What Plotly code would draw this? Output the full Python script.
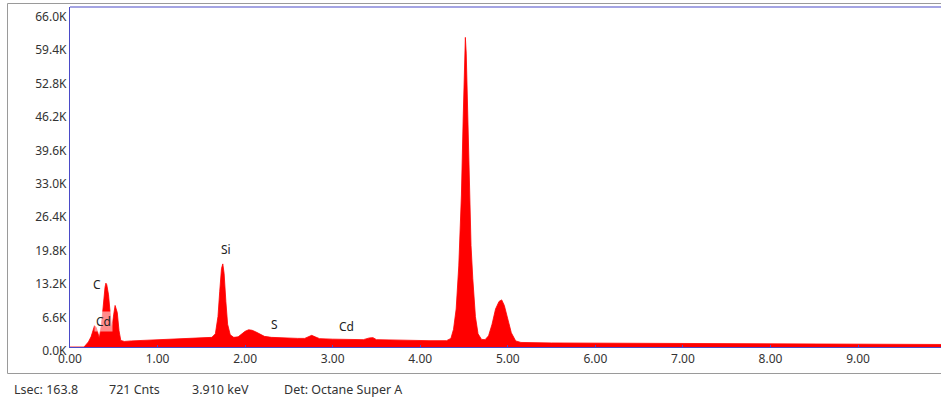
import plotly.graph_objects as go

# Spectrum points (energy in keV, counts)
energy_kev = [0.00, 0.16, 0.18, 0.21, 0.24, 0.26, 0.28, 0.30, 0.32, 0.335, 0.36, 0.38, 0.40, 0.41,
              0.42, 0.44, 0.46, 0.475, 0.50, 0.515, 0.54, 0.56, 0.58, 0.62, 0.70, 0.90, 1.10,
              1.30, 1.50, 1.62, 1.66, 1.69, 1.71, 1.73, 1.745, 1.76, 1.78, 1.80, 1.83, 1.87,
              1.92, 1.96, 2.00, 2.04, 2.08, 2.12, 2.17, 2.22, 2.30, 2.40, 2.50, 2.60, 2.68,
              2.72, 2.76, 2.80, 2.85, 3.00, 3.20, 3.35, 3.42, 3.46, 3.50, 3.70, 3.90, 4.10,
              4.30, 4.35, 4.38, 4.41, 4.44, 4.47, 4.49, 4.505, 4.515, 4.525, 4.54, 4.56, 4.58,
              4.60, 4.63, 4.66, 4.70, 4.74, 4.78, 4.82, 4.86, 4.90, 4.93, 4.96, 5.00, 5.04,
              5.09, 5.15, 5.50, 6.00, 7.00, 8.00, 9.00, 9.95]
counts = [0, 0, 400, 1000, 2000, 3300, 4200, 3800, 2500, 1800, 4500, 9000, 11800, 12600,
          12300, 10300, 6800, 3600, 6500, 8200, 6800, 3200, 1300, 1100, 1200, 1350, 1500,
          1650, 1800, 1900, 2600, 6000, 11000, 15500, 16400, 14500, 9000, 4500, 2400, 1900,
          2000, 2500, 3100, 3400, 3300, 3000, 2500, 2100, 1900, 1800, 1750, 1700, 1700,
          2000, 2300, 2000, 1650, 1550, 1450, 1450, 1800, 1850, 1450, 1350, 1300, 1250,
          1250, 1700, 3500, 7500, 16000, 30000, 45000, 56000, 61100, 58000, 48000, 33000, 20000,
          13500, 6000, 2600, 1500, 1450, 2200, 4500, 7500, 9000, 9300, 8200, 5500, 2800,
          1200, 900, 800, 750, 650, 600, 550, 500]

y_tick_vals = [0, 6600, 13200, 19800, 26400, 33000, 39600, 46200, 52800, 59400, 66000]
y_tick_text = ["0.0K", "6.6K", "13.2K", "19.8K", "26.4K", "33.0K", "39.6K", "46.2K",
               "52.8K", "59.4K", "66.0K"]
x_tick_vals = [0, 1, 2, 3, 4, 5, 6, 7, 8, 9]
x_tick_text = ["0.00", "1.00", "2.00", "3.00", "4.00", "5.00", "6.00", "7.00", "8.00", "9.00"]

peak_labels = ["C", "Cd", "Si", "S", "Cd"]
peak_label_x = [0.31, 0.38, 1.78, 2.34, 3.16]
peak_label_y = [12300, 5000, 19300, 4500, 4100]

footer_texts = ["Lsec: 163.8", "721 Cnts", "3.910 keV", "Det: Octane Super A"]
footer_x_px = [12, 107, 190, 282]

FONT = "Noto Sans"
AXIS_BLUE = "#4a4ac8"
FRAME_GRAY = "#9a9a9a"
W, H = 941, 403
L, R, T, B = 70, 0, 7, 56
pw = W - L - R
ph = H - T - B


def px_x(px):
    return (px - L) / pw


def px_y(py):
    return ((H - B) - py) / ph


fig = go.Figure()
fig.add_trace(go.Scatter(
    x=energy_kev, y=counts, mode="lines", fill="tozeroy",
    line=dict(color="#ff0000", width=0.8), fillcolor="#ff0000",
    hoverinfo="skip", showlegend=False))

for i, (t, xv, yv) in enumerate(zip(peak_labels, peak_label_x, peak_label_y)):
    extra = {}
    if i == 1:
        extra = dict(bgcolor="rgba(255,255,255,0.55)", borderpad=1)
    fig.add_annotation(x=xv, y=yv, text=t, showarrow=False, xref="x", yref="y",
                       font=dict(family=FONT, size=12, color="#222"), **extra)

for t, px in zip(footer_texts, footer_x_px):
    fig.add_annotation(x=px_x(px), y=px_y(389), text=t,
                       showarrow=False, xref="paper", yref="paper", xanchor="left",
                       yanchor="middle", font=dict(family=FONT, size=12.5, color="#333"))

# outer gray frame (left, top, bottom edges)
fig.add_shape(type="line", xref="paper", yref="paper", x0=px_x(7.5), x1=px_x(7.5),
              y0=px_y(373.5), y1=px_y(3.5), line=dict(color=FRAME_GRAY, width=1))
fig.add_shape(type="line", xref="paper", yref="paper", x0=px_x(7.5), x1=1.0,
              y0=px_y(3.5), y1=px_y(3.5), line=dict(color=FRAME_GRAY, width=1))
fig.add_shape(type="line", xref="paper", yref="paper", x0=px_x(7.5), x1=1.0,
              y0=px_y(373.5), y1=px_y(373.5), line=dict(color=FRAME_GRAY, width=1))
# top border of plot area
fig.add_shape(type="line", xref="paper", yref="paper", x0=0, x1=1, y0=1, y1=1,
              line=dict(color=AXIS_BLUE, width=1.2))

fig.update_layout(
    width=W, height=H, margin=dict(l=L, r=R, t=T, b=B),
    paper_bgcolor="white", plot_bgcolor="white",
    font=dict(family=FONT, size=12, color="#333"),
    xaxis=dict(range=[0, 9.947], tickvals=x_tick_vals, ticktext=x_tick_text,
               showgrid=False, zeroline=False, showline=True, linecolor=AXIS_BLUE,
               linewidth=1.2, ticks="inside", ticklen=2, tickcolor=AXIS_BLUE,
               tickfont=dict(family=FONT, size=12, color="#333")),
    yaxis=dict(range=[0, 67100], tickvals=y_tick_vals, ticktext=y_tick_text,
               showgrid=False, zeroline=False, showline=True, linecolor=AXIS_BLUE,
               linewidth=1.2, ticks="", ticklabelstandoff=0, ticklabelshift=4,
               tickfont=dict(family=FONT, size=12, color="#333")),
)

fig.write_html("out.html")
